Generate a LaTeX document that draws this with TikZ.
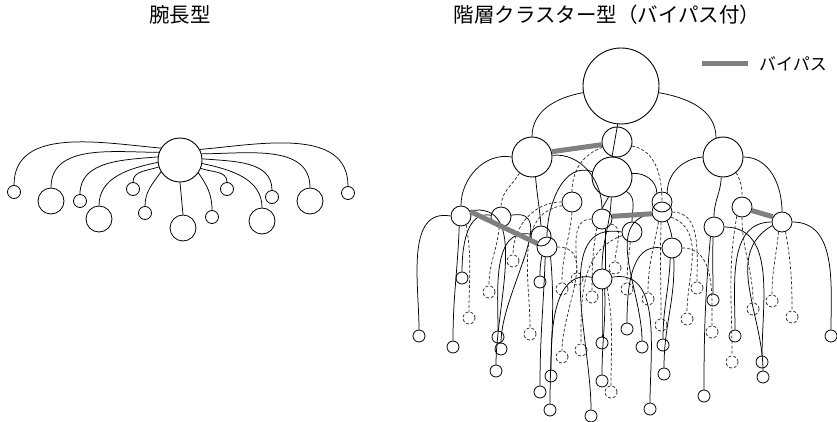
\documentclass[tikz,border=0pt]{standalone}
\usepackage{fontspec}
\newfontfamily\jp{Noto Sans CJK JP}
\begin{document}
\begin{tikzpicture}[x=1pt,y=-1pt,
  big/.style={circle, draw, line width=0.9pt, inner sep=0pt},
  lf/.style={circle, draw, line width=0.8pt, minimum size=12pt, inner sep=0pt},
  dlf/.style={lf, densely dashed, draw=black!80},
  conn/.style={line width=0.75pt},
  dconn/.style={line width=0.7pt, densely dashed, draw=black!85},
  bypass/.style={line width=5pt, draw=black!50},
  ttl/.style={font=\jp\fontsize{20.5}{22}\selectfont, inner sep=0pt}]
\useasboundingbox (0,0) rectangle (837,422);

% titles
\node[ttl] (t1) at (180,15) {腕長型};
\node[ttl] (t2) at (607,15) {階層クラスター型（バイパス付）};

% ---------------- left: arm-length type ----------------
\node[big, minimum size=44pt] (hub) at (180,160) {};
\foreach \n/\x/\y/\s in {la/14/192/13, lb/51/201/26, lc/80/201/13, ld/99/219/26,
  le/133/189/13, lf/145/213/13, lg/183/228/26, lh/212/217/13, li/227/189/13,
  lj/262/221/26, lk/272/197/13, ll/310/201/26, lm/348/193/13}
  \node[big, line width=0.8pt, minimum size=\s pt] (\n) at (\x,\y) {};
\foreach \c/\a/\o in {la/148/175, lb/160/180, lc/172/185, ld/186/192, le/198/200,
  lf/212/235, lh/-35/-55, li/-22/-20, lj/-9/-12, lk/3/-5, ll/16/0, lm/28/5}
  \draw[conn] (hub.\a) to[out=\o,in=90] (\c.north);
\draw[conn] (hub.south) -- (lg.north);

% ---------------- right: hierarchical cluster type ----------------
% legend
\coordinate (lg1) at (702,64);
\coordinate (lg2) at (748,64);
\draw[bypass] (lg1) -- (lg2);
\node[font=\jp\fontsize{17}{19}\selectfont, anchor=west, inner sep=0pt] (lgt) at (759,64) {バイパス};

% upper nodes
\node[big, minimum size=76pt] (root) at (621,86) {};
\node[big, minimum size=40pt] (l1a) at (532,157) {};
\node[big, minimum size=30pt] (sm) at (617,142) {};
\node[big, minimum size=40pt] (l1b) at (723,157) {};
\node[big, minimum size=40pt] (mid) at (612,177) {};
% level 2
\foreach \n/\x/\y in {A/461/216, B/501/217, C/572/202, D/602/219, E1/662/202, E/662/212,
  F/742/207, G/782/222, H/714/227, I1/541/236, I/547/247, J/632/232, K/672/248, M/602/279}
  \node[big, line width=0.8pt, minimum size=20pt] (\n) at (\x,\y) {};
% leaves, solid
\foreach \n/\x/\y in {s1/419/336, s2/453/347, s3/462/278, s4/498/337, s5/501/349, s6/496/371,
  s7/540/282, s8/540/392, s9/551/376, s10/550/410, s11/591/416, s12/602/343, s13/602/381,
  s14/627/329, s15/642/347, s16/650/409, s17/663/345, s18/664/374, s19/713/300, s20/735/336,
  s21/704/396, s22/762/362, s23/763/377, s24/831/336}
  \node[lf] (\n) at (\x,\y) {};
% leaves, dashed
\foreach \n/\x/\y in {d1/469/318, d2/489/292, d3/513/261, d4/530/334, d5/562/289, d6/562/357,
  d7/577/279, d8/581/350, d9/592/297, d10/611/392, d11/615/268, d12/627/289, d13/648/299,
  d14/661/325, d15/687/319, d16/697/288, d17/732/362, d18/753/309, d19/772/301, d20/792/317,
  d21/712/332}
  \node[dlf] (\n) at (\x,\y) {};

% top-level connectors
\draw[conn] (root.190) to[out=190,in=90] (l1a.north);
\draw[conn] (root.-10) to[out=-10,in=90] (l1b.110);
\draw[conn] (root.265) -- (mid.north);
\draw[conn] (l1a.180) to[out=170,in=90] (A.north);
\draw[dconn] (l1a.232) to[out=240,in=90] (B.north);
\draw[conn] (l1a.-80) to[out=-85,in=95] (I1.north);
\draw[conn] (l1a.5) to[out=5,in=90] (D.north);
\draw[dconn] (sm.200) to[out=200,in=90] (C.north);
\draw[dconn] (sm.-15) to[out=-10,in=90] (E.north);
\draw[conn] (mid.165) to[out=160,in=90] (I.north);
\draw[conn] (mid.10) to[out=5,in=90] (E1.120);
\draw[conn] (mid.-100) -- (D.north);
\draw[conn] (mid.-45) to[out=-30,in=90] (J.north);
\draw[conn] (mid.-92) to[out=-92,in=90] (M.north);
\draw[conn] (D.-70) -- (M.70);
\draw[conn] (l1b.180) to[out=185,in=90] (E1.60);
\draw[conn] (l1b.-95) to[out=-92,in=90] (H.north);
\draw[dconn] (l1b.-50) to[out=-60,in=90] (F.north);
\draw[conn] (l1b.0) to[out=0,in=90] (G.north);
\draw[conn] (E.-60) to[out=-70,in=100] (K.north);

% level-2 to leaves, solid arcs
\foreach \p/\a/\o/\c in {A/180/170/s1, A/-100/-92/s2, A/30/10/s6,
  B/170/170/s3, B/10/10/s5, I1/170/170/s4,
  I/-120/-100/s7, I/-100/-92/s8, I/-70/-85/s10,
  M/-90/-90/s12, M/-75/-88/s13, M/170/170/s9, M/10/10/s16,
  J/180/170/s11, K/180/170/s14, K/-100/-92/s17, K/-80/-88/s18,
  E/190/190/s15, H/-95/-92/s19, H/-110/-95/s21, H/0/0/s22,
  G/180/180/s20, G/200/210/s23, G/0/0/s24}
  \draw[conn] (\p.\a) to[out=\o,in=90] (\c.north);
% level-2 to leaves, dashed arcs
\foreach \p/\a/\o/\c in {A/-60/-80/d1, B/-100/-95/d2, C/180/180/d3, C/200/190/d4, C/-90/-95/d5,
  I/0/0/d6, D/180/180/d7, D/-120/-100/d9, D/-30/-10/d11, M/-60/-80/d10,
  J/200/200/d8, J/-100/-95/d12, K/0/0/d21,
  E/-110/-100/d13, E/-95/-92/d14, E/-30/-20/d15, E/0/0/d16,
  F/-120/-100/d17, F/-90/-90/d18, G/-110/-95/d19, G/-70/-80/d20}
  \draw[dconn] (\p.\a) to[out=\o,in=90] (\c.north);

% bypasses
\draw[bypass] (l1a.15) -- (sm.190);
\draw[bypass] (A.25) -- (I.160);
\draw[bypass] (D.15) -- (E.190);
\draw[bypass] (F.-20) -- (G.150);
\end{tikzpicture}
\end{document}
